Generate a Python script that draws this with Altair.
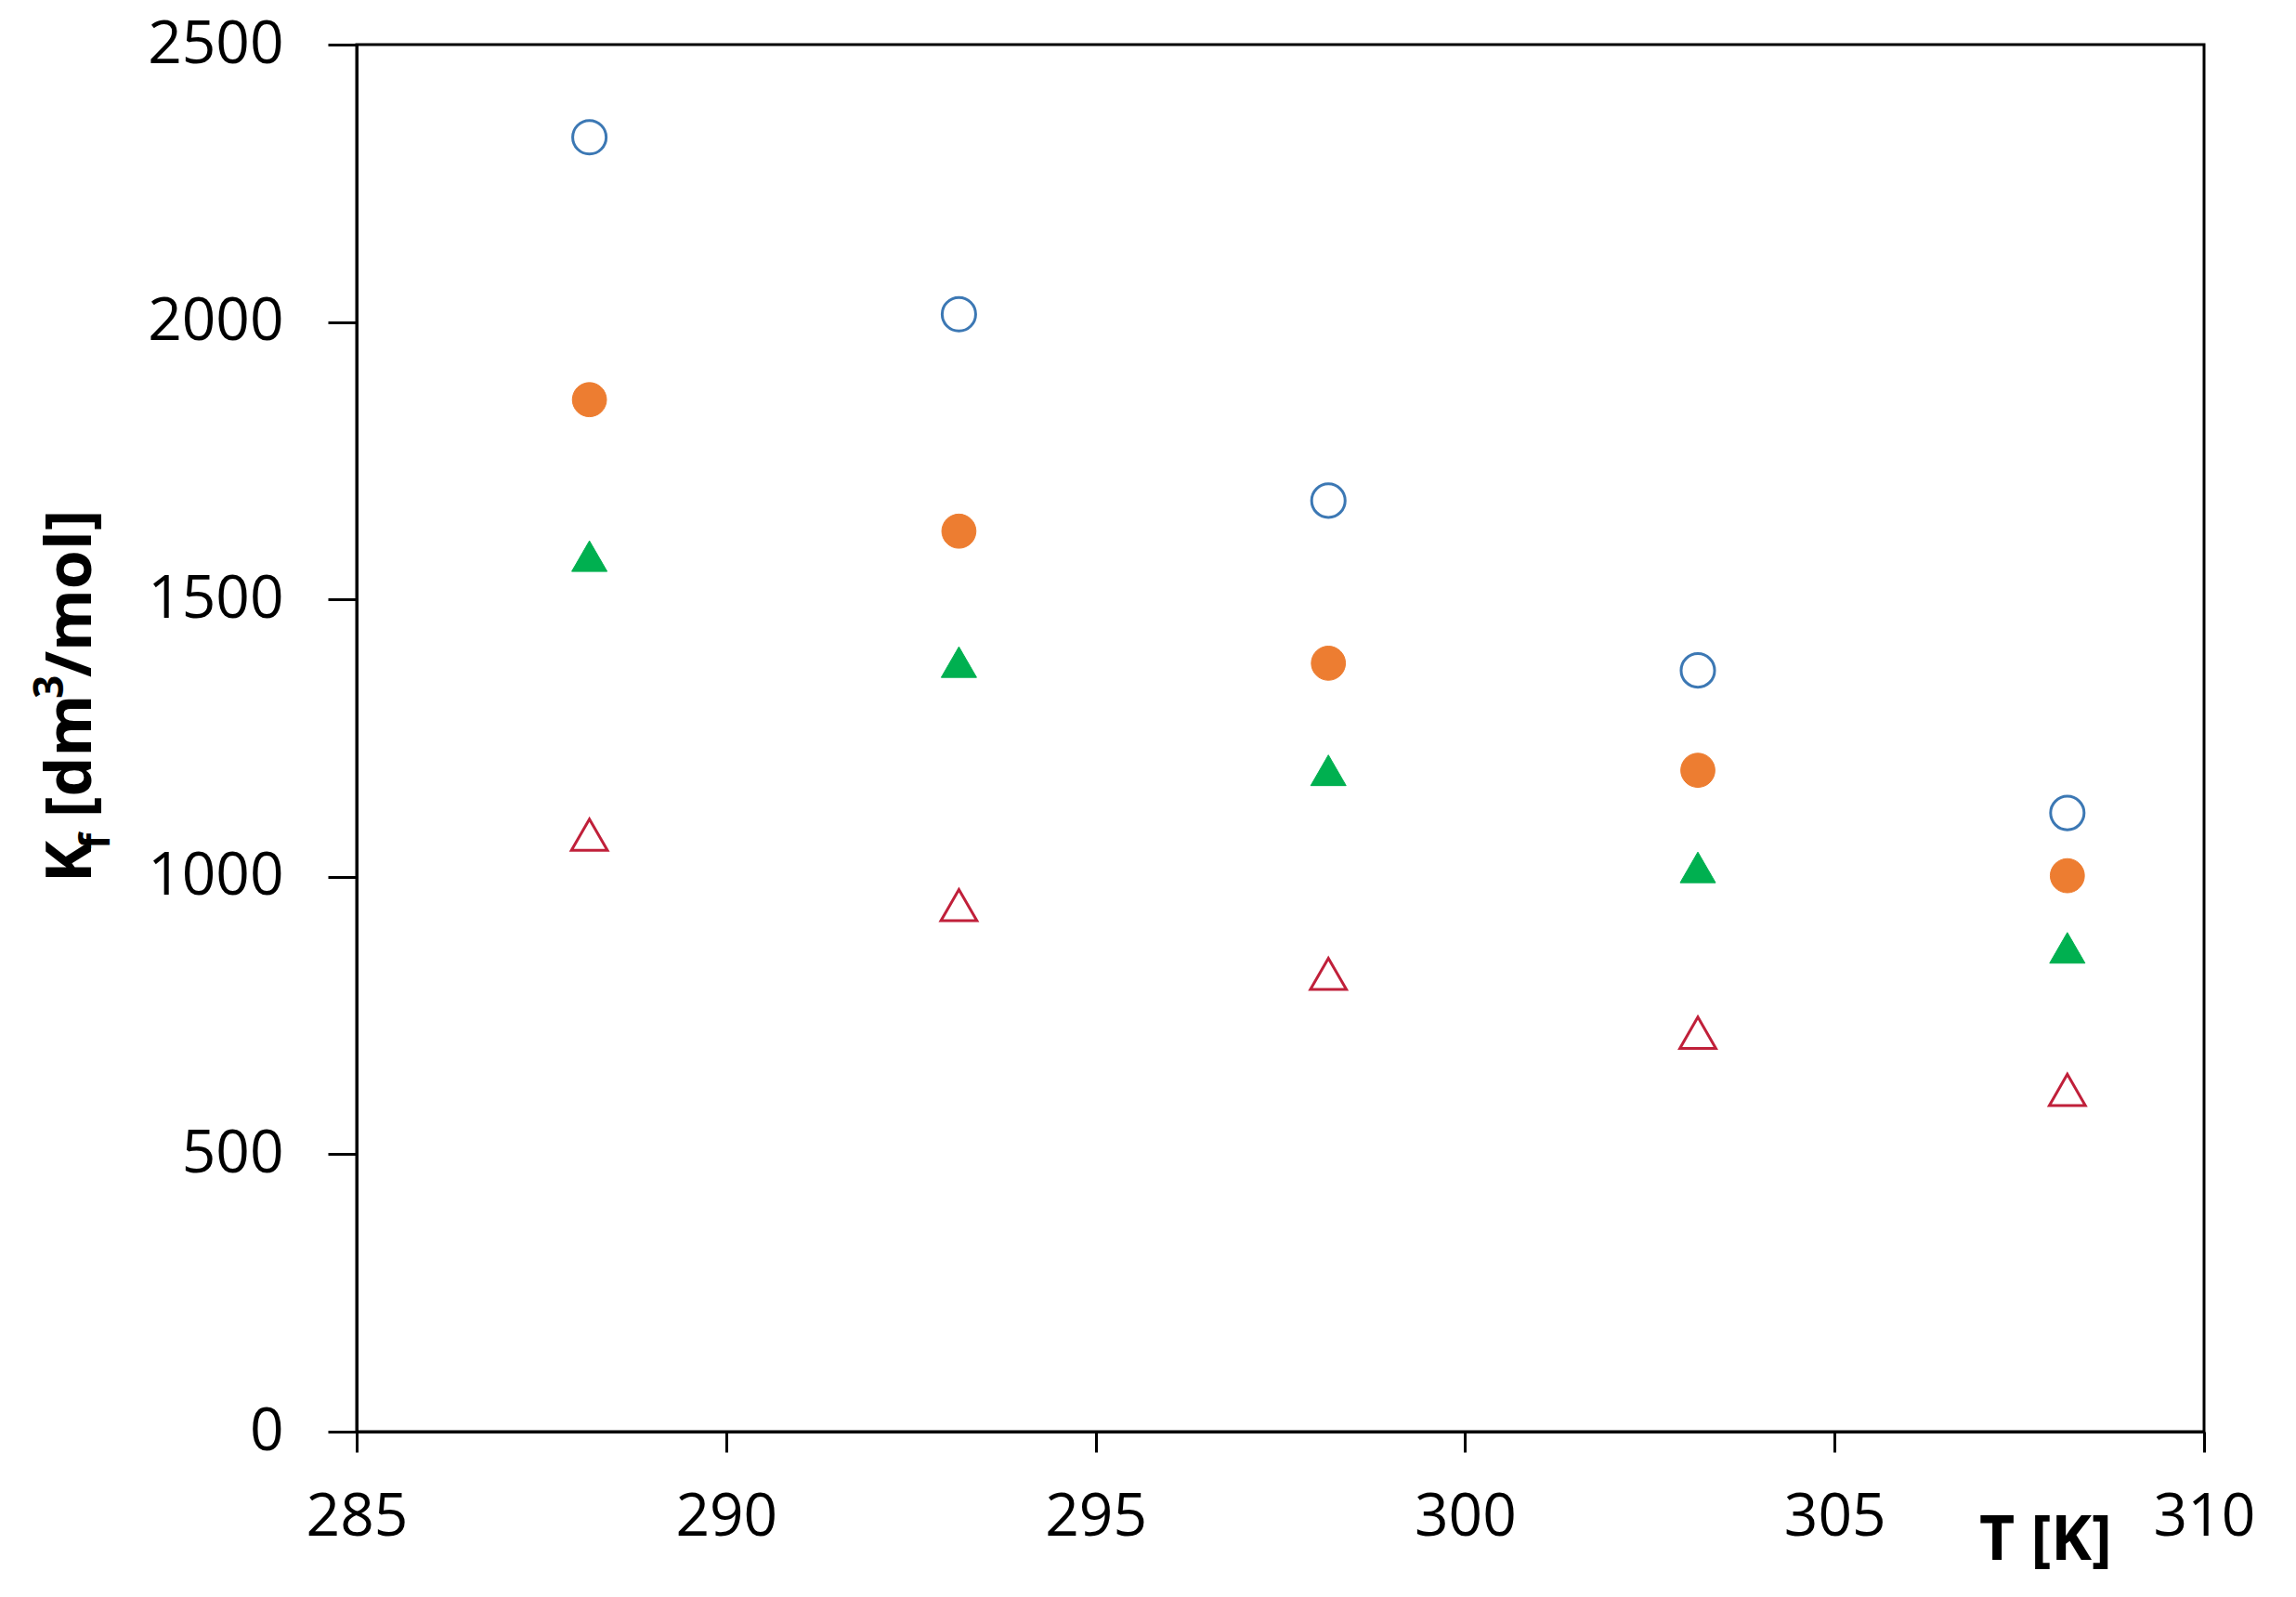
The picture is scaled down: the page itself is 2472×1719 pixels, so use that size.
import altair as alt
import pandas as pd

# ---- data ----
T = [288.15, 293.15, 298.15, 303.15, 308.15]
blue_open_circle = [2333, 2014, 1678, 1372, 1115]
orange_filled_circle = [1860, 1623, 1385, 1192, 1002]
green_filled_triangle = [1578, 1387, 1192, 1017, 872]
red_open_triangle = [1076, 949, 825, 719, 616]

x_ticks = [285, 290, 295, 300, 305, 310]
y_ticks = [0, 500, 1000, 1500, 2000, 2500]

W, H = 1989, 1493
FONT = "Open Sans"

styles = [
    (blue_open_circle, "circle", "#3C78B4", False, 1300),
    (orange_filled_circle, "circle", "#ED7D31", True, 1350),
    (green_filled_triangle, "triangle-up", "#00B050", True, 1450),
    (red_open_triangle, "triangle-up", "#C0203A", False, 1500),
]

xscale = alt.Scale(domain=[285, 310], nice=False, zero=False)
yscale = alt.Scale(domain=[0, 2500], nice=False)

x_axis = alt.Axis(values=x_ticks, format="d", title="T [K]", grid=False, domainColor="black",
                  domainWidth=3, tickColor="black", tickWidth=3, tickSize=22,
                  labelFontSize=64, labelFont=FONT, labelColor="black",
                  labelPadding=38, labelFlush=False, labelOverlap=False,
                  titleFont=FONT, titleFontSize=66,
                  titleFontWeight="bold", titleColor="black",
                  titleX=1818, titleY=137, titleAlign="center",
                  titleBaseline="alphabetic")
y_axis = alt.Axis(values=y_ticks, format="d", title=None, grid=False, domainColor="black",
                  domainWidth=3, tickColor="black", tickWidth=3, tickSize=31,
                  labelFontSize=64, labelFont=FONT, labelColor="black",
                  labelPadding=48, labelFlush=False, labelOverlap=False)

layers = []
for vals, shape, color, filled, size in styles:
    df = pd.DataFrame({"T": T, "K": vals})
    if filled:
        mk = alt.Chart(df).mark_point(shape=shape, filled=True, fill=color, stroke=color,
                                      strokeWidth=1, opacity=1, size=size)
    else:
        mk = alt.Chart(df).mark_point(shape=shape, filled=False, stroke=color,
                                      strokeWidth=3, opacity=1, size=size)
    layers.append(mk.encode(
        x=alt.X("T:Q", scale=xscale, axis=x_axis),
        y=alt.Y("K:Q", scale=yscale, axis=y_axis),
    ))

# ---- y-axis title with subscript and superscript ----
F = 68
FS = 44
# (text, font size, baseline x offset, start position along the axis)
pieces = [
    ("K", F, -286, 902),
    ("f", FS, -266, 866),
    ("[dm", F, -286, 832),
    ("3", FS, -316, 704),
    ("/mol]", F, -286, 681),
]
for txt, size, px, py in pieces:
    layers.append(
        alt.Chart(pd.DataFrame({"t": [txt]})).mark_text(
            angle=270, align="left", baseline="alphabetic", font=FONT,
            fontWeight="bold", fontSize=size, color="black"
        ).encode(text="t:N", x=alt.value(px), y=alt.value(py))
    )

chart = alt.layer(*layers).properties(
    width=W, height=H,
    background="white",
    autosize=alt.AutoSizeParams(type="none"),
    padding={"left": 376, "top": 40, "right": 60, "bottom": 160},
).configure_view(stroke="black", strokeWidth=3)

chart.save("out.html", embed_options={"renderer": "svg", "actions": False})
